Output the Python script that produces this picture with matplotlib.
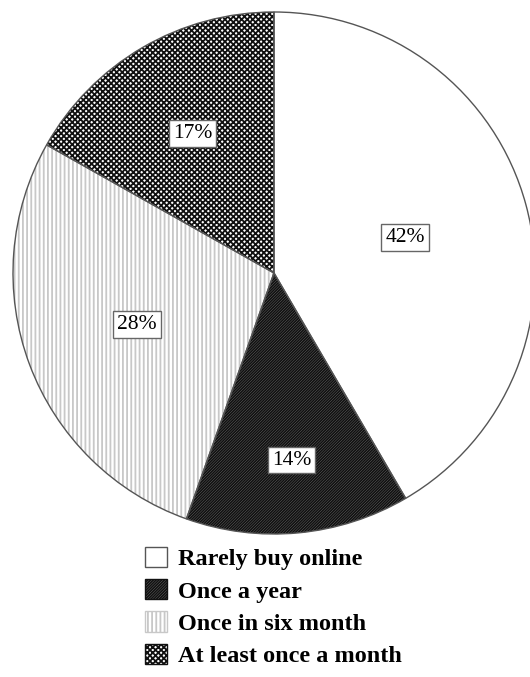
import matplotlib
matplotlib.use("Agg")
import matplotlib.pyplot as plt
import numpy as np
from matplotlib.patches import Patch

categories = ["Rarely buy online", "Once a year", "Once in six month", "At least once a month"]
values = [42, 14, 28, 17]
labels = ["42%", "14%", "28%", "17%"]

hatches = [None, "/" * 12, "|" * 4, "x" * 6]
hatch_colors = ["#ffffff", "#111111", "#c8c8c8", "#111111"]
label_dist = [0.52, 0.72, 0.56, 0.62]

plt.rcParams["font.family"] = ["Liberation Serif", "DejaVu Serif"]
plt.rcParams["hatch.linewidth"] = 1.3

fig = plt.figure(figsize=(5.30, 6.77), dpi=100)
W, H = 530, 677
cx, cy, R = 274, 273, 261
ax = fig.add_axes([(cx - R) / W, (H - cy - R) / H, 2 * R / W, 2 * R / H])

wedges, _ = ax.pie(values, startangle=90, counterclock=False, radius=1,
                   colors=["white"] * 4,
                   wedgeprops=dict(linewidth=0))
for w, h, hc in zip(wedges, hatches, hatch_colors):
    w.set_edgecolor(hc)
    if h:
        w.set_hatch(h)

# outlines
ax.pie(values, startangle=90, counterclock=False, radius=1,
       colors=["none"] * 4,
       wedgeprops=dict(linewidth=1.0, edgecolor="#555555", fill=False))

for w, lab, d in zip(wedges, labels, label_dist):
    ang = np.deg2rad((w.theta1 + w.theta2) / 2)
    ax.text(d * np.cos(ang), d * np.sin(ang), lab, ha="center", va="center",
            fontsize=15.5,
            bbox=dict(boxstyle="square,pad=0.18", facecolor="white",
                      edgecolor="#666666", linewidth=1.0))

ax.set_xlim(-1, 1)
ax.set_ylim(-1, 1)
ax.set_aspect("equal")
ax.axis("off")

handles = []
for h, hc in zip(hatches, hatch_colors):
    ec = "#555555"
    if h:
        ec = hc
    handles.append(Patch(facecolor="white", edgecolor=ec, hatch=h, linewidth=1.0))
leg = fig.legend(handles, categories, loc="upper left",
                 bbox_to_anchor=(145 / W, 1 - 547 / H),
                 frameon=False, handlelength=0.9, handleheight=0.9,
                 handletextpad=0.45, labelspacing=0.36, borderpad=0,
                 borderaxespad=0,
                 prop=dict(family=["Liberation Serif"], weight="bold", size=17.5))

fig.savefig("out.png", dpi=100)
